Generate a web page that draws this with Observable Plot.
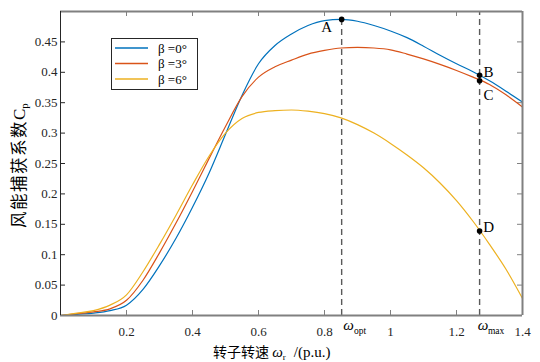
<!DOCTYPE html>
<html>
<head>
<meta charset="utf-8">
<script src="https://cdn.jsdelivr.net/npm/d3@7"></script>
<script src="https://cdn.jsdelivr.net/npm/@observablehq/plot@0.6"></script>
<style>
  html, body { margin: 0; padding: 0; background: #fff; }
  #chart { width: 540px; height: 362px; }
</style>
</head>
<body>
<div id="chart"></div>
<script>
// ---- data ----
const speed = [0,0.05,0.1,0.15,0.2,0.25,0.3,0.35,0.4,0.45,0.5,0.55,0.6,0.65,0.7,0.75,0.8,0.85,0.9,0.95,1.0,1.05,1.1,1.15,1.2,1.25,1.3,1.35,1.4];
const cpBeta0 = [0,0.002,0.004,0.008,0.017,0.043,0.082,0.127,0.178,0.234,0.298,0.362,0.414,0.444,0.463,0.477,0.485,0.487,0.484,0.477,0.468,0.457,0.443,0.428,0.414,0.401,0.386,0.369,0.351];
const cpBeta3 = [0,0.003,0.006,0.011,0.025,0.058,0.103,0.152,0.204,0.258,0.311,0.360,0.392,0.409,0.420,0.430,0.436,0.440,0.441,0.440,0.437,0.430,0.422,0.413,0.403,0.392,0.380,0.363,0.343];
const cpBeta6 = [0,0.004,0.008,0.017,0.034,0.072,0.117,0.165,0.215,0.262,0.300,0.324,0.334,0.337,0.338,0.336,0.332,0.325,0.314,0.300,0.283,0.264,0.243,0.218,0.189,0.155,0.117,0.076,0.028];
const seriesNames = ["β =0°", "β =3°", "β =6°"];
const seriesColors = ["#0072BD", "#D95319", "#EDB120"];
const xTicks = [0.2,0.4,0.6,0.8,1,1.2,1.4];
const yTicks = [0,0.05,0.1,0.15,0.2,0.25,0.3,0.35,0.4,0.45];
const wOpt = 0.852;
const wMax = 1.27;
const pointNames = ["A","B","C","D"];
const pointX = [0.852, 1.27, 1.27, 1.27];
const pointY = [0.487, 0.395, 0.386, 0.139];

// ---- build tables ----
const allSeries = [cpBeta0, cpBeta3, cpBeta6];
const rows = [];
allSeries.forEach((vals, k) => vals.forEach((v, i) => rows.push({x: speed[i], y: v, s: seriesNames[k]})));
const points = pointNames.map((n, i) => ({n, x: pointX[i], y: pointY[i]}));
const labelOffsets = {A: [-15, 8], B: [9, -3], C: [9, 14], D: [9, -4]};

const W = 540, H = 362, mL = 60, mR = 18, mT = 11, mB = 47;
const innerW = W - mL - mR, innerH = H - mT - mB;
const tickLen = 5;
const grey = "#808080", dark = "#262626";
const serif = "'Liberation Serif', 'Times New Roman', serif";
const cjk = "'Noto Sans CJK SC', sans-serif";

const plot = Plot.plot({
  width: W, height: H,
  marginLeft: mL, marginRight: mR, marginTop: mT, marginBottom: mB,
  x: {domain: [0, 1.4]},
  y: {domain: [0, 0.5]},
  color: {domain: seriesNames, range: seriesColors},
  style: `font-family: ${serif}; font-size: 13px; color: ${dark}; background: white;`,
  marks: [
    Plot.axisX(xTicks, {tickSize: 0, tickPadding: 11, tickFormat: d => String(d), label: null, fontSize: 13}),
    Plot.axisY(yTicks, {tickSize: 0, tickPadding: 3, tickFormat: d => String(d), label: null, fontSize: 13}),
    // inward ticks on all four sides
    Plot.tickX(xTicks, {x: d => d, insetTop: innerH - tickLen, stroke: grey}),
    Plot.tickX(xTicks, {x: d => d, insetBottom: innerH - tickLen, stroke: grey}),
    Plot.tickY(yTicks, {y: d => d, insetRight: innerW - tickLen, stroke: dark}),
    Plot.tickY(yTicks, {y: d => d, insetLeft: innerW - tickLen, stroke: grey}),
    // dashed guide lines
    Plot.ruleX([wOpt], {y1: 0, y2: pointY[0], stroke: "#5a5a5a", strokeWidth: 1.4, strokeDasharray: "6,4"}),
    Plot.ruleX([wMax], {y1: 0, y2: 0.5, stroke: "#5a5a5a", strokeWidth: 1.4, strokeDasharray: "6,4"}),
    // curves
    Plot.line(rows, {x: "x", y: "y", stroke: "s", z: "s", strokeWidth: 1.2, curve: "monotone-x"}),
    // box
    Plot.ruleY([0], {stroke: grey, strokeWidth: 2}),
    Plot.ruleY([0.5], {stroke: grey, strokeWidth: 2}),
    Plot.ruleX([1.4], {stroke: grey, strokeWidth: 2}),
    Plot.ruleX([0], {stroke: dark, strokeWidth: 1}),
    // marked points
    Plot.dot(points, {x: "x", y: "y", r: 2.8, fill: "black", stroke: null}),
    ...points.map(p => Plot.text([p], {x: "x", y: "y", text: "n", dx: labelOffsets[p.n][0], dy: labelOffsets[p.n][1], fontSize: 15, fill: "black"})),
    // omega labels under the axis
    Plot.text([wOpt], {x: d => d, y: () => 0, text: () => "ω", dx: 7, dy: 10, fontSize: 15, fontStyle: "italic", fill: "black"}),
    Plot.text([wOpt], {x: d => d, y: () => 0, text: () => "opt", dx: 18.5, dy: 15, fontSize: 9.5, fill: "black"}),
    Plot.text([wMax], {x: d => d, y: () => 0, text: () => "ω", dx: 3.5, dy: 10, fontSize: 15, fontStyle: "italic", fill: "black"}),
    Plot.text([wMax], {x: d => d, y: () => 0, text: () => "max", dx: 16.5, dy: 15, fontSize: 9.5, fill: "black"})
  ]
});

const svg = d3.select(plot);
svg.selectAll("text").style("font-family", serif);

// legend
const lg = svg.append("g");
lg.append("rect").attr("x", 111.5).attr("y", 38.5).attr("width", 86).attr("height", 51)
  .attr("fill", "white").attr("stroke", dark).attr("stroke-width", 1);
seriesNames.forEach((name, i) => {
  const yy = 48 + i * 15.5;
  lg.append("line").attr("x1", 115).attr("x2", 148).attr("y1", yy).attr("y2", yy)
    .attr("stroke", seriesColors[i]).attr("stroke-width", 1.3);
  lg.append("text").attr("x", 158).attr("y", yy + 4.5).attr("text-anchor", "start")
    .style("font-family", serif).attr("font-size", 13).attr("fill", "black").text(name);
});

// x-axis label
const xl = svg.append("text").attr("x", 213).attr("y", 357).attr("text-anchor", "start").attr("fill", "black")
  .style("font-family", serif).attr("font-size", 15);
xl.append("tspan").style("font-family", cjk).attr("font-size", 14).text("转子转速 ");
xl.append("tspan").attr("font-style", "italic").attr("font-size", 15).text("ω");
xl.append("tspan").attr("font-size", 9).attr("dy", 3).text("r");
xl.append("tspan").attr("dy", -3).attr("dx", 8).text("/(p.u.)");

// y-axis label
const yl = svg.append("text").attr("transform", "translate(25,228) rotate(-90)").attr("text-anchor", "start").attr("fill", "black")
  .style("font-family", serif).attr("font-size", 17);
yl.append("tspan").style("font-family", cjk).attr("font-size", 16.5).attr("letter-spacing", 1.5).text("风能捕获系数");
yl.append("tspan").attr("font-size", 17).text("C");
yl.append("tspan").attr("font-size", 11).attr("dy", 3).text("p");

document.getElementById("chart").appendChild(plot);
</script>
</body>
</html>
